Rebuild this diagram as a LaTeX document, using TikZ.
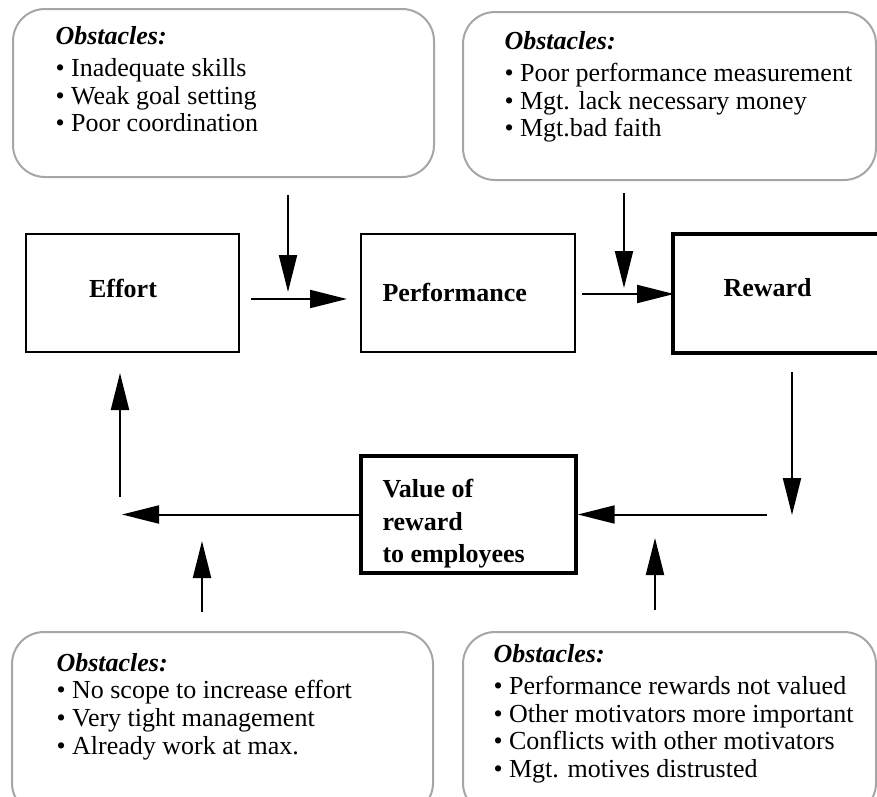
\documentclass[tikz,border=0pt]{standalone}
\usepackage{fontspec}
\setmainfont{Liberation Serif}
\usetikzlibrary{arrows.meta}

\tikzset{every picture/.style={line width=0.75pt}}
\tikzset{
  obsbox/.style={draw={rgb, 255:red, 166; green, 166; blue, 166}, line width=1.5pt, rounded corners=24pt},
  stepbox/.style={draw, line width=1.8pt},
  thickbox/.style={draw, line width=2.6pt},
  flow/.style={line width=1.5pt, -{Triangle[length=27.75pt,width=13.5pt]}},
  obstext/.style={anchor=north west, inner sep=0pt, align=left, font=\fontsize{19.5}{20.75}\selectfont},
  boxtext/.style={inner sep=0pt, font=\fontsize{19.5}{24.4}\selectfont\bfseries}
}

\begin{document}
\begin{tikzpicture}[x=0.75pt,y=0.75pt,yscale=-1,xscale=1]
		\clip (0,0) rectangle (877,796);
		
		%Shape: Rounded Rectangle [obstacles]
		\node [obsbox, minimum width=315.75pt, minimum height=126pt] (obsTL) at (223.5,93) {};
		\node [obsbox, minimum width=309.75pt, minimum height=126pt] (obsTR) at (669.5,96) {};
		\node [obsbox, minimum width=315.75pt, minimum height=137.25pt] (obsBL) at (222.5,723.5) {};
		\node [obsbox, minimum width=309.75pt, minimum height=137.25pt] (obsBR) at (669.5,723.5) {};
		
		%Shape: Rectangle [steps]
		\node [stepbox, minimum width=159.75pt, minimum height=88.5pt] (effort) at (132.5,293) {};
		\node [stepbox, minimum width=160.5pt, minimum height=88.5pt] (perf) at (468,293) {};
		\node [thickbox, minimum width=162.75pt, minimum height=89.25pt] (reward) at (781.5,293.5) {};
		\node [thickbox, minimum width=161.25pt, minimum height=87.75pt] (value) at (468.5,514.5) {};
		
		%arrow ends
		\coordinate (effortOut) at (251,299);
		\coordinate (perfIn) at (347,299);
		\coordinate (obsTLdown) at (288,195);
		\coordinate (obsTLtip) at (288,292);
		\coordinate (perfOut) at (582,294);
		\coordinate (rewardIn) at (674,294);
		\coordinate (obsTRdown) at (624,193);
		\coordinate (obsTRtip) at (624,288);
		\coordinate (rewardDown) at (792,372);
		\coordinate (rewardTip) at (792,515);
		\coordinate (valueIn) at (767,514.5);
		\coordinate (loopEnd) at (122,514.5);
		\coordinate (effortUp) at (120,497);
		\coordinate (effortTip) at (120,373);
		\coordinate (obsBLup) at (202,612);
		\coordinate (obsBLtip) at (202,541);
		\coordinate (obsBRup) at (655,610);
		\coordinate (obsBRtip) at (655,538);
		
		\draw [flow] (effortOut) -- (perfIn) ;
		\draw [flow] (obsTLdown) -- (obsTLtip) ;
		\draw [flow] (perfOut) -- (rewardIn) ;
		\draw [flow] (obsTRdown) -- (obsTRtip) ;
		\draw [flow] (rewardDown) -- (rewardTip) ;
		\draw [flow] (valueIn) -- (value.east) ;
		\draw [flow] (value.west) -- (loopEnd) ;
		\draw [flow] (effortUp) -- (effortTip) ;
		\draw [flow] (obsBLup) -- (obsBLtip) ;
		\draw [flow] (obsBRup) -- (obsBRtip) ;
		
		\draw (123,288) node [boxtext] (effortLbl) {Effort};
		\draw (382,292) node [boxtext, anchor=west] (perfLbl) {Performance};
		\draw (723,288) node [boxtext, anchor=west] (rewardLbl) {Reward};
		\draw (382,479) node [boxtext, anchor=north west, align=left] (valueLbl) {Value of\\reward\\to employees};
		
		\draw (55,25.5) node [obstext] (obsTLtxt) {\textbf{\textit{Obstacles:}}\\[3.5pt]• Inadequate skills\\• Weak goal setting\\• Poor coordination};
		\draw (504,30.5) node [obstext] (obsTRtxt) {\textbf{\textit{Obstacles:}}\\[3.5pt]• Poor performance measurement\\• Mgt. lack necessary money\\• Mgt.bad faith};
		\draw (56,652.5) node [obstext] (obsBLtxt) {\textbf{\textit{Obstacles:}}\\• No scope to increase effort\\• Very tight management\\• Already work at max.};
		\draw (493,643.5) node [obstext] (obsBRtxt) {\textbf{\textit{Obstacles:}}\\[3.5pt]• Performance rewards not valued\\• Other motivators more important\\• Conflicts with other motivators\\• Mgt. motives distrusted};
		
\end{tikzpicture}
\end{document}
